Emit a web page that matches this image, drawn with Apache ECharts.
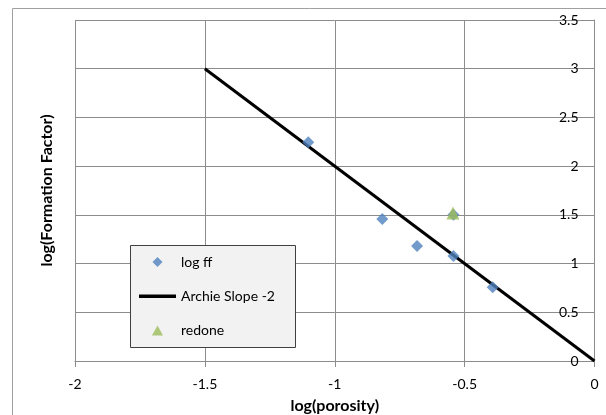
<!DOCTYPE html>
<html>
<head>
<meta charset="utf-8">
<script src="https://cdn.jsdelivr.net/npm/echarts@6/dist/echarts.min.js"></script>
<style>
  html, body { margin: 0; padding: 0; background: #fff; }
  #box { width: 606px; height: 415px; }
</style>
</head>
<body>
<div id="box"></div>
<script>
// data
let logPorosity = [-1.102, -0.817, -0.683, -0.543, -0.543, -0.392];
let logFF = [2.245, 1.457, 1.18, 1.078, 1.5, 0.756];
let archieX = [-1.5, 0];
let archieY = [3, 0];
let redoneX = [-0.545];
let redoneY = [1.52];
let seriesNames = ["log ff", "Archie Slope -2", "redone"];

let font = "Lato, 'Liberation Sans', sans-serif";
let gridColor = "#8c8c8c";

function pairs(xs, ys) {
  return xs.map((x, i) => [x, ys[i]]);
}

let chart = echarts.init(document.getElementById("box"), null, { renderer: "canvas" });

let option = {
  animation: false,
  backgroundColor: "#fff",
  textStyle: { fontFamily: font },
  grid: { left: 75, right: 11.5, top: 20, bottom: 54, outerBoundsMode: "none" },
  xAxis: {
    type: "value",
    min: -2,
    max: 0,
    interval: 0.5,
    position: "bottom",
    name: "log(porosity)",
    nameLocation: "middle",
    nameGap: 37,
    nameTextStyle: { fontFamily: font, fontWeight: "bold", fontSize: 16, color: "#000" },
    axisLine: { onZero: false, lineStyle: { color: gridColor, width: 1 } },
    axisTick: { show: true, length: 6, lineStyle: { color: gridColor } },
    axisLabel: { fontFamily: font, fontSize: 14, color: "#000", margin: 16 },
    splitLine: { show: true, lineStyle: { color: gridColor, width: 1 } }
  },
  yAxis: {
    type: "value",
    min: 0,
    max: 3.5,
    interval: 0.5,
    position: "right",
    axisLine: { show: true, onZero: false, lineStyle: { color: gridColor, width: 1 } },
    axisTick: { show: false },
    axisLabel: { inside: true, fontFamily: font, fontSize: 14, color: "#000", margin: 16 },
    splitLine: { show: true, lineStyle: { color: gridColor, width: 1 } }
  },
  legend: {
    orient: "vertical",
    left: 130,
    top: 245,
    z: 5,
    padding: [10, 0, 0, 9],
    itemWidth: 37,
    itemHeight: 10,
    itemGap: 20.2,
    symbolKeepAspect: true,
    textStyle: { fontFamily: font, fontSize: 14, color: "#000", lineHeight: 14 },
    data: [
      { name: seriesNames[0], icon: "path://M5,0L10,5L5,10L0,5Z" },
      { name: seriesNames[1], icon: "path://M0,0L37,0L37,3.5L0,3.5Z" },
      { name: seriesNames[2], icon: "path://M5,0L10,9L0,9Z" }
    ]
  },
  graphic: [
    {
      type: "rect",
      silent: true,
      z: 0,
      shape: { x: 12.5, y: 8.5, width: 700, height: 500 },
      style: { fill: null, stroke: "#a0a0a0", lineWidth: 1 }
    },
    {
      type: "rect",
      silent: true,
      z: 3,
      shape: { x: 130.5, y: 245.5, width: 165, height: 102 },
      style: { fill: "#f2f2f2", stroke: "#404040", lineWidth: 1 }
    },
    {
      type: "text",
      silent: true,
      x: 47,
      y: 190.5,
      rotation: Math.PI / 2,
      style: {
        text: "log(Formation Factor)",
        font: "bold 16px " + font,
        fill: "#000",
        align: "center",
        verticalAlign: "middle"
      }
    }
  ],
  series: [
    {
      name: seriesNames[0],
      type: "scatter",
      symbol: "diamond",
      symbolSize: 12,
      itemStyle: { color: "#4f81bd" },
      z: 3,
      data: pairs(logPorosity, logFF)
    },
    {
      name: seriesNames[1],
      type: "line",
      symbol: "none",
      lineStyle: { color: "#000", width: 3 },
      itemStyle: { color: "#000" },
      z: 2,
      data: pairs(archieX, archieY)
    },
    {
      name: seriesNames[2],
      type: "scatter",
      symbol: "triangle",
      symbolSize: 13,
      itemStyle: { color: "#9bbb59" },
      z: 4,
      data: pairs(redoneX, redoneY)
    }
  ]
};

chart.setOption(option);
</script>
</body>
</html>
